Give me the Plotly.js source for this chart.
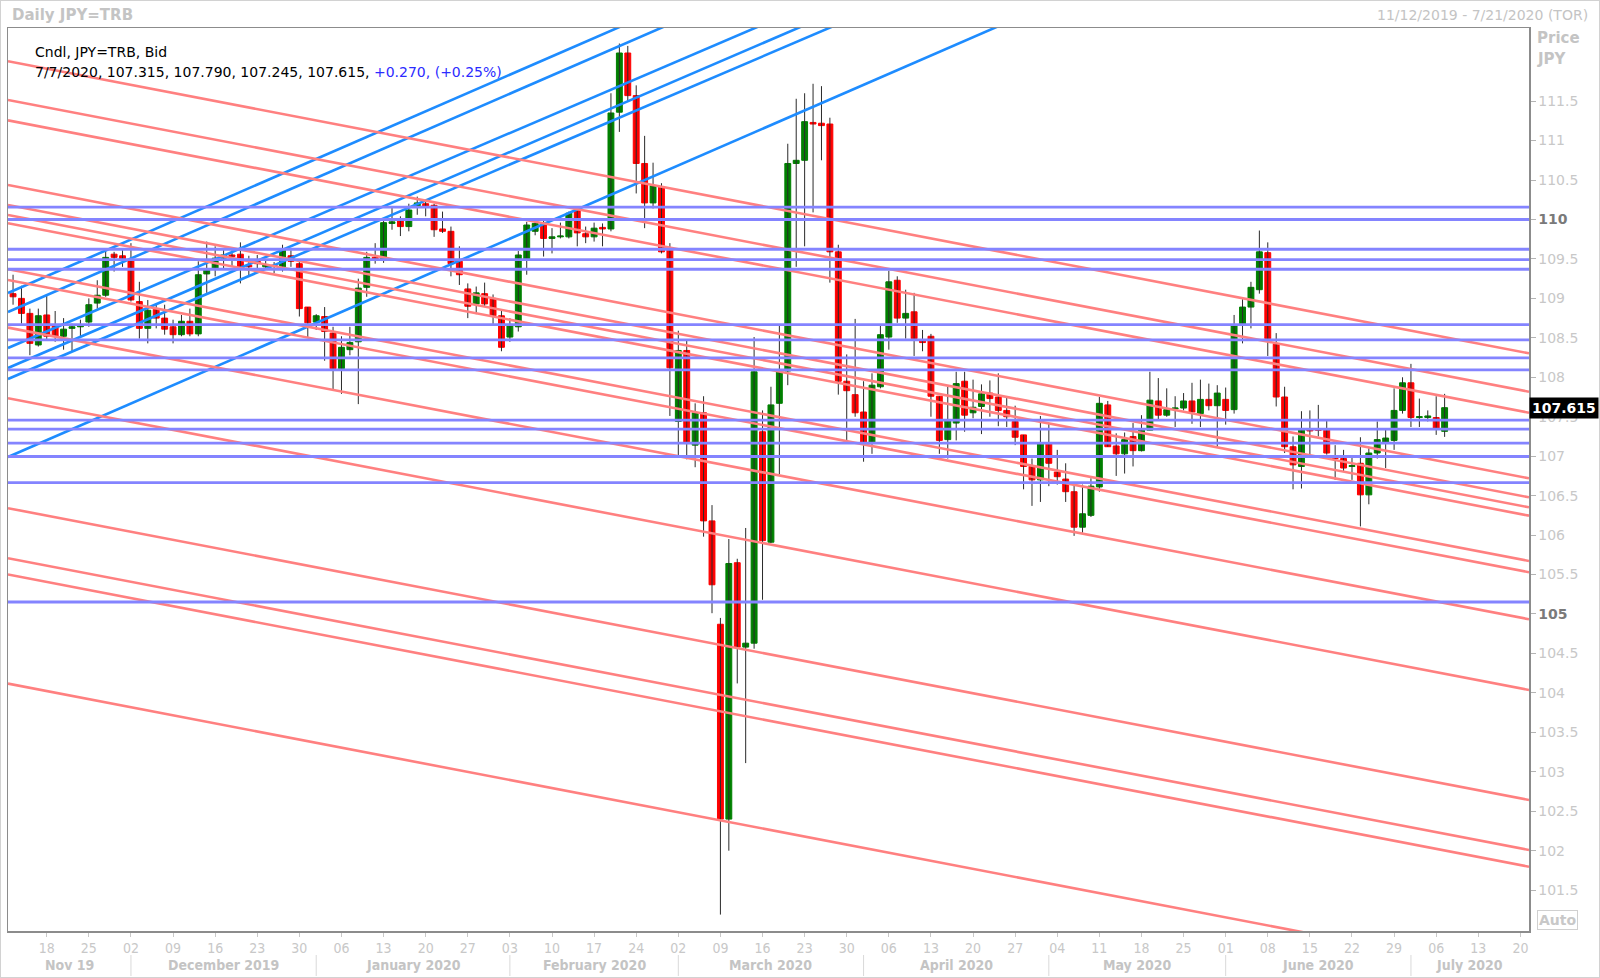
<!DOCTYPE html>
<html><head><meta charset="utf-8">
<script src="https://cdn.plot.ly/plotly-3.0.1.min.js"></script>
<style>
html,body{margin:0;padding:0;background:#fff;}
#chart{width:1600px;height:978px;}
#frame{position:absolute;left:0;top:0;width:1600px;height:978px;box-sizing:border-box;border:1px solid #d2d2d2;pointer-events:none;}
</style>
</head><body><div id="chart"></div><div id="frame"></div>
<script>
// ---------------- data ----------------
const firstDay = '2019-11-12';
const axisLastDay = '2020-07-21';
const instrument = 'JPY=TRB';
const monthLabels = ['Nov 19','December 2019','January 2020','February 2020','March 2020','April 2020','May 2020','June 2020','July 2020'];
const yTicks = [101.5,102,102.5,103,103.5,104,104.5,105,105.5,106,106.5,107,107.5,108,108.5,109,109.5,110,110.5,111,111.5];
const boldTicks = [105,110];

const opens = [
109.06,109.00,108.81,108.41,
108.79,108.65,108.52,108.62,108.64,
108.70,108.94,109.04,109.56,109.54,
109.49,108.96,108.62,108.86,108.75,
108.64,108.54,108.71,108.55,109.31,
109.38,109.51,109.55,109.56,109.42,
109.49,109.40,109.42,109.40,109.54,
109.44,108.89,108.70,108.77,108.56,
108.11,108.35,108.45,109.14,109.52,
109.48,109.95,109.99,109.91,110.16,
110.20,110.18,109.88,109.85,109.47,
109.12,108.93,109.06,109.00,108.78,
108.51,108.64,109.50,109.85,109.93,
109.76,109.78,109.78,110.12,109.82,
109.78,109.90,109.88,111.36,112.11,
111.57,110.71,110.21,110.41,109.63,
107.44,108.34,107.14,107.55,106.18,
104.87,102.40,105.65,104.58,104.63,
107.31,105.91,107.67,108.08,110.71,
110.75,111.23,111.22,111.21,109.59,
107.95,107.78,107.56,107.17,107.88,
108.51,109.23,108.75,108.83,108.46,
108.52,107.76,107.21,107.42,107.95,
107.55,107.63,107.80,107.75,107.58,
107.44,107.27,106.87,106.70,107.16,
106.80,106.71,106.55,106.10,106.25,
106.61,107.65,107.13,107.03,107.25,
107.07,107.33,107.70,107.52,107.60,
107.61,107.70,107.54,107.72,107.64,
107.72,107.59,108.66,108.89,109.11,
109.58,108.42,107.75,107.12,106.87,
107.34,107.34,107.33,107.00,106.97,
106.87,106.91,106.51,107.04,107.18,
107.20,107.58,107.93,107.49,107.49,
107.49,107.315];
const highs = [
109.30,109.16,108.87,108.87,
109.04,108.84,108.75,108.68,108.73,
109.00,109.23,109.61,109.59,109.63,
109.70,109.21,108.98,108.92,108.92,
108.73,108.79,108.87,109.47,109.72,
109.66,109.63,109.61,109.71,109.54,
109.55,109.49,109.46,109.68,109.61,
109.49,108.89,108.80,108.89,108.64,
108.52,108.64,109.25,109.59,109.70,
109.99,110.15,110.04,110.20,110.29,
110.23,110.20,110.10,109.91,109.66,
109.19,109.15,109.20,109.05,108.85,
108.75,109.60,109.97,110.00,110.00,
109.89,109.96,110.10,110.14,109.91,
109.96,109.95,111.60,112.23,112.20,
111.70,111.06,110.72,110.46,109.70,
108.59,108.47,107.67,107.76,106.38,
104.95,105.95,105.70,106.09,108.51,
107.58,107.88,108.66,110.96,111.53,
111.60,111.72,111.69,111.29,109.68,
108.29,108.74,107.95,108.05,108.65,
109.35,109.28,109.11,109.07,108.60,
108.55,107.76,107.88,108.07,108.07,
107.97,107.91,107.96,108.05,107.75,
107.64,107.27,106.97,107.51,107.42,
107.08,106.91,106.64,106.64,106.72,
107.75,107.70,107.29,107.30,107.42,
107.52,108.07,107.99,107.86,107.76,
107.80,107.93,107.97,107.92,107.90,
107.87,108.79,108.99,109.21,109.86,
109.71,108.56,107.88,107.25,107.57,
107.58,107.65,107.46,107.14,107.08,
106.99,107.24,107.10,107.44,107.34,
107.86,108.00,108.17,107.73,107.58,
107.76,107.79];
const lows = [
108.92,108.68,108.28,108.39,
108.47,108.45,108.35,108.32,108.51,
108.64,108.87,109.02,109.34,109.40,
108.96,108.49,108.43,108.62,108.54,
108.43,108.52,108.52,108.52,109.07,
109.28,109.36,109.40,109.19,109.28,
109.36,109.36,109.32,109.34,109.40,
108.77,108.51,108.60,108.21,107.85,
107.79,108.28,107.66,109.02,109.44,
109.45,109.87,109.79,109.85,110.06,
110.04,109.78,109.83,109.28,109.17,
108.75,108.80,108.90,108.67,108.33,
108.45,108.58,109.30,109.80,109.53,
109.57,109.76,109.76,109.66,109.70,
109.72,109.66,109.85,111.11,111.50,
110.33,109.89,110.14,109.57,107.51,
107.01,106.96,106.86,105.98,105.01,
101.19,102.00,104.12,103.11,104.56,
105.18,105.90,106.77,107.90,109.40,
109.66,110.09,110.75,109.20,107.78,
107.16,107.50,106.93,107.03,107.86,
108.35,108.69,108.49,108.27,108.33,
107.50,107.03,106.97,107.20,107.31,
107.48,107.28,107.50,107.38,107.37,
107.14,106.58,106.37,106.42,106.62,
106.64,106.42,105.99,106.03,106.23,
106.55,107.12,106.75,106.78,106.87,
107.06,107.33,107.46,107.50,107.37,
107.58,107.41,107.37,107.58,107.12,
107.40,107.54,108.43,108.62,109.06,
108.27,107.63,107.04,106.58,106.59,
107.01,107.25,107.02,106.70,106.80,
106.70,106.11,106.39,106.97,106.85,
107.08,107.54,107.37,107.37,107.44,
107.27,107.245];
const closes = [
109.02,108.81,108.43,108.78,
108.52,108.52,108.61,108.64,108.66,
108.92,109.04,109.52,109.52,109.50,
108.98,108.62,108.85,108.75,108.61,
108.54,108.71,108.55,109.30,109.36,
109.51,109.55,109.53,109.40,109.40,
109.44,109.43,109.41,109.61,109.47,
108.87,108.69,108.78,108.58,108.11,
108.38,108.44,109.13,109.52,109.50,
109.96,109.97,109.91,110.12,110.21,
110.16,109.87,109.85,109.44,109.30,
108.90,109.07,108.93,108.78,108.38,
108.67,109.55,109.93,109.95,109.76,
109.78,109.79,110.08,109.83,109.78,
109.89,109.88,111.35,112.11,111.57,
110.71,110.21,110.43,109.59,108.12,
108.34,107.16,107.55,106.18,105.37,
102.40,105.64,104.58,104.63,108.07,
105.93,107.65,108.07,110.71,110.75,
111.24,111.21,111.19,109.59,107.95,
107.83,107.55,107.17,107.90,108.54,
109.21,108.75,108.81,108.49,108.44,
107.76,107.20,107.45,107.92,107.52,
107.62,107.79,107.73,107.58,107.50,
107.24,106.87,106.70,107.16,106.91,
106.74,106.55,106.10,106.27,106.62,
107.67,107.12,107.03,107.21,107.07,
107.33,107.71,107.52,107.59,107.61,
107.70,107.56,107.72,107.64,107.80,
107.58,108.66,108.89,109.14,109.59,
108.49,107.75,107.12,106.89,107.34,
107.32,107.33,107.04,106.97,106.85,
106.88,106.51,107.04,107.21,107.23,
107.58,107.93,107.49,107.50,107.51,
107.345,107.615];

// horizontal support / resistance levels
const hLevels = [110.156,110.0,109.623,109.492,109.369,108.668,108.473,108.245,108.093,107.458,107.344,107.166,106.996,106.666,105.152];
// descending (red) trend lines: price at left edge / right edge of the chart
const redStart = [112.006,111.515,111.256,110.437,110.184,110.057,109.952,109.369,109.233,108.63,107.734,106.341,105.707,105.501,104.117];
const redEnd   = [108.304,107.817,107.551,106.720,106.479,106.352,106.246,105.672,105.529,104.933,104.037,102.643,102.009,101.797,100.417];
// ascending (blue) trend lines: price at left edge / right edge of the chart
const blueStart = [109.068,108.828,108.371,108.118,107.978,106.990];
const blueEnd   = [117.454,117.213,116.630,116.414,116.220,115.375];

// ---------------- helpers ----------------
function weekdays(from, to){
  const out=[]; let d=new Date(from+'T00:00:00Z'); const end=new Date(to+'T00:00:00Z');
  while(d<=end){ const w=d.getUTCDay(); if(w!==0&&w!==6) out.push(new Date(d)); d=new Date(d.getTime()+86400000); }
  return out;
}
const axisDays = weekdays(firstDay, axisLastDay);
const n = opens.length;
const xs = opens.map((_,i)=>i);
const xRange = [-0.6, 180.02];
const yRange = [100.982, 112.427];

const L=8, R=1529, T=28, B=931, W=R-L, H=B-T;
const px = p => (p-L)/W;       // pixel -> paper x
const py = p => (B-p)/H;       // pixel -> paper y

// ticks on Mondays
const tickVals=[], tickText=[];
axisDays.forEach((d,i)=>{ if(d.getUTCDay()===1){ tickVals.push(i); tickText.push(String(d.getUTCDate()).padStart(2,'0')); }});
// month boundaries
const monthStarts=[];
axisDays.forEach((d,i)=>{ if(i>0 && d.getUTCMonth()!==axisDays[i-1].getUTCMonth()) monthStarts.push(i); });
const bounds=[xRange[0], ...monthStarts, xRange[1]];

// wicks
const wx=[], wy=[];
for(let i=0;i<n;i++){ wx.push(i,i,null); wy.push(lows[i],highs[i],null); }

const FONT = 'DejaVu Sans, Liberation Sans, sans-serif';
const COND = 'DejaVu Sans Condensed, Liberation Sans Narrow, DejaVu Sans, sans-serif';

const traces = [
  {type:'scatter', mode:'lines', x:wx, y:wy, line:{color:'#2a2a2a', width:1}, hoverinfo:'skip', showlegend:false},
  {type:'candlestick', x:xs, open:opens, close:closes,
   high:opens.map((o,i)=>Math.max(o,closes[i])), low:opens.map((o,i)=>Math.min(o,closes[i])),
   increasing:{fillcolor:'#008000', line:{color:'#008000', width:1}},
   decreasing:{fillcolor:'#ff0000', line:{color:'#ff0000', width:1}},
   whiskerwidth:0, hoverinfo:'skip', showlegend:false}
];

const shapes = [];
blueStart.forEach((v,k)=>shapes.push({type:'line', xref:'x', yref:'y', x0:xRange[0], x1:xRange[1], y0:v, y1:blueEnd[k], line:{color:'#1e8cff', width:2.6}}));
redStart.forEach((v,k)=>shapes.push({type:'line', xref:'x', yref:'y', x0:xRange[0], x1:xRange[1], y0:v, y1:redEnd[k], line:{color:'#ff8080', width:2.6}}));
hLevels.forEach(v=>shapes.push({type:'line', xref:'paper', yref:'y', x0:0, x1:1, y0:v, y1:v, line:{color:'#8484ff', width:2.8}}));
monthStarts.forEach(i=>shapes.push({type:'line', xref:'x', yref:'paper', x0:i, x1:i, y0:py(955), y1:py(976), line:{color:'#d9d9d9', width:1}}));

const last=n-1;
const chg = closes[last]-closes[last-1];
const pct = chg/closes[last-1]*100;
const sgn = v => (v>=0?'+':'')+v;
const infoLine = ['7/7/2020', opens[last].toFixed(3), highs[last].toFixed(3), lows[last].toFixed(3), closes[last].toFixed(3)].join(', ')
  + ', <span style="color:#2b2bff">' + sgn(chg.toFixed(3)) + ', (' + sgn(pct.toFixed(2)) + '%)</span>';

const annotations = [
  {xref:'paper', yref:'paper', x:px(10), y:py(15), xanchor:'left', yanchor:'middle', showarrow:false,
   text:'<b>Daily '+instrument+'</b>', font:{family:FONT, size:15, color:'#c4c4c4'}},
  {xref:'paper', yref:'paper', x:px(1590), y:py(15), xanchor:'right', yanchor:'middle', showarrow:false,
   text:'11/12/2019 - 7/21/2020 (TOR)', font:{family:FONT, size:14, color:'#c4c4c4'}},
  {xref:'paper', yref:'paper', x:px(33), y:py(52), xanchor:'left', yanchor:'middle', showarrow:false,
   text:'Cndl, '+instrument+', Bid', font:{family:FONT, size:14, color:'#000'}},
  {xref:'paper', yref:'paper', x:px(33), y:py(72), xanchor:'left', yanchor:'middle', showarrow:false,
   text:infoLine, font:{family:FONT, size:14, color:'#000'}},
  {xref:'paper', yref:'paper', x:px(1535), y:py(38), xanchor:'left', yanchor:'middle', showarrow:false,
   text:'<b>Price</b>', font:{family:FONT, size:15, color:'#c4c4c4'}},
  {xref:'paper', yref:'paper', x:px(1535), y:py(59), xanchor:'left', yanchor:'middle', showarrow:false,
   text:'<b>JPY</b>', font:{family:FONT, size:15, color:'#c4c4c4'}},
  {xref:'paper', yref:'y', x:1, y:closes[last], xanchor:'left', yanchor:'middle', showarrow:false,
   text:'<b>'+closes[last].toFixed(3)+'</b>', bgcolor:'#000', borderpad:2, font:{family:FONT, size:14, color:'#fff'}},
  {xref:'paper', yref:'paper', x:px(1557), y:py(920), xanchor:'center', yanchor:'middle', showarrow:false,
   text:'<b>Auto</b>', bordercolor:'#d0d0d0', borderwidth:1, borderpad:1, font:{family:FONT, size:14, color:'#c8c8c8'}}
];
monthLabels.forEach((t,k)=>annotations.push({xref:'x', yref:'paper', x:(bounds[k]+bounds[k+1])/2, y:py(965), xanchor:'center', yanchor:'middle',
  showarrow:false, text:'<b>'+t+'</b>', font:{family:COND, size:14, color:'#c4c4c4'}}));

const yTickText = yTicks.map(v => boldTicks.includes(v) ? '<b><span style="color:#7a7a7a">'+v+'</span></b>' : String(v));

const layout = {
  width:1600, height:978,
  margin:{l:L, r:1600-R, t:T, b:978-B, pad:0},
  paper_bgcolor:'#fff', plot_bgcolor:'#fff',
  showlegend:false, boxgap:0.3, boxgroupgap:0, hovermode:false,
  xaxis:{type:'linear', range:xRange, tickmode:'array', tickvals:tickVals, ticktext:tickText,
    rangeslider:{visible:false},
    ticks:'outside', ticklen:4, tickcolor:'#c8c8c8', tickfont:{family:COND, size:14, color:'#c8c8c8'},
    showgrid:false, zeroline:false, showline:true, linecolor:'#8c8c8c', linewidth:1.5, mirror:true, fixedrange:true},
  yaxis:{side:'right', range:yRange, tickmode:'array', tickvals:yTicks, ticktext:yTickText,
    ticks:'outside', ticklen:5, tickcolor:'#b4b4b4', tickfont:{family:FONT, size:14, color:'#c8c8c8'},
    showgrid:false, zeroline:false, showline:true, linecolor:'#8c8c8c', linewidth:1.5, mirror:true, fixedrange:true},
  shapes, annotations
};
Plotly.newPlot('chart', traces, layout, {displayModeBar:false, staticPlot:true});
</script>
</body></html>
